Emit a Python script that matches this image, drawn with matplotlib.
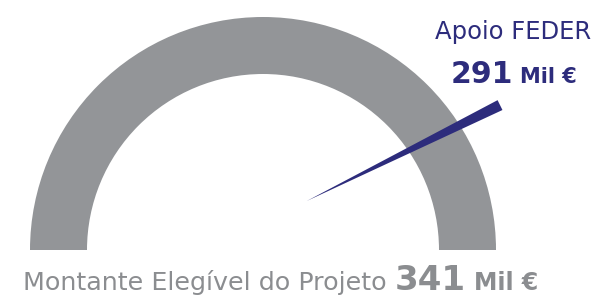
import numpy as np
import matplotlib
matplotlib.use("Agg")
import matplotlib.pyplot as plt
from matplotlib.patches import Wedge, Polygon

# values shown on the gauge (thousand euro)
montante_label = "Montante Elegível do Projeto"
montante_value = 341
apoio_label = "Apoio FEDER"
apoio_value = 291
unit = "Mil €"

GRAY = "#939598"
TEXT_GRAY = "#8b8d90"
NAVY = "#2d2c7c"

fig = plt.figure(figsize=(5.97, 2.97), dpi=100)
ax = fig.add_axes([0, 0, 1, 1])
ax.set_xlim(0, 597)
ax.set_ylim(297, 0)
ax.axis("off")

# gauge background (full amount)
center = (263, 250)
ax.add_patch(Wedge(center, 233, 180, 360, width=57, color=GRAY, lw=0))

# needle at the share of the eligible amount
share = apoio_value / montante_value
theta = np.pi * (1 - share)
pivot = np.array([208.0, 250.0])
d = np.array([np.cos(theta), -np.sin(theta)])
perp = np.array([-d[1], d[0]])
tip = pivot + 110 * d
end = pivot + 326 * d
needle = Polygon([tip, end + 5.5 * perp, end - 5.5 * perp], closed=True,
                 color=NAVY, lw=0)
ax.add_patch(needle)

# labels
ax.text(591, 39, apoio_label, color=NAVY, fontsize=17.5, ha="right",
        va="baseline")
t_unit = ax.text(577, 83, unit, color=NAVY, fontsize=15, fontweight="bold",
                 ha="right", va="baseline")
ax.annotate(str(apoio_value), xy=(0, 83), xycoords=(t_unit, "data"),
            xytext=(-5, 0), textcoords="offset points", color=NAVY,
            fontsize=21.5, fontweight="bold", ha="right", va="baseline")

base_y = 290
t_label = ax.text(23, base_y, montante_label, color=TEXT_GRAY, fontsize=18.3,
                  ha="left", va="baseline")
t_val = ax.annotate(str(montante_value), xy=(1, base_y),
                    xycoords=(t_label, "data"), xytext=(6, 0),
                    textcoords="offset points", color=TEXT_GRAY, fontsize=24.5,
                    fontweight="bold", ha="left", va="baseline")
ax.annotate(unit, xy=(1, base_y), xycoords=(t_val, "data"), xytext=(6, 0),
            textcoords="offset points", color=TEXT_GRAY, fontsize=17,
            fontweight="bold", ha="left", va="baseline")

fig.savefig("out.png", dpi=100)
plt.close(fig)
